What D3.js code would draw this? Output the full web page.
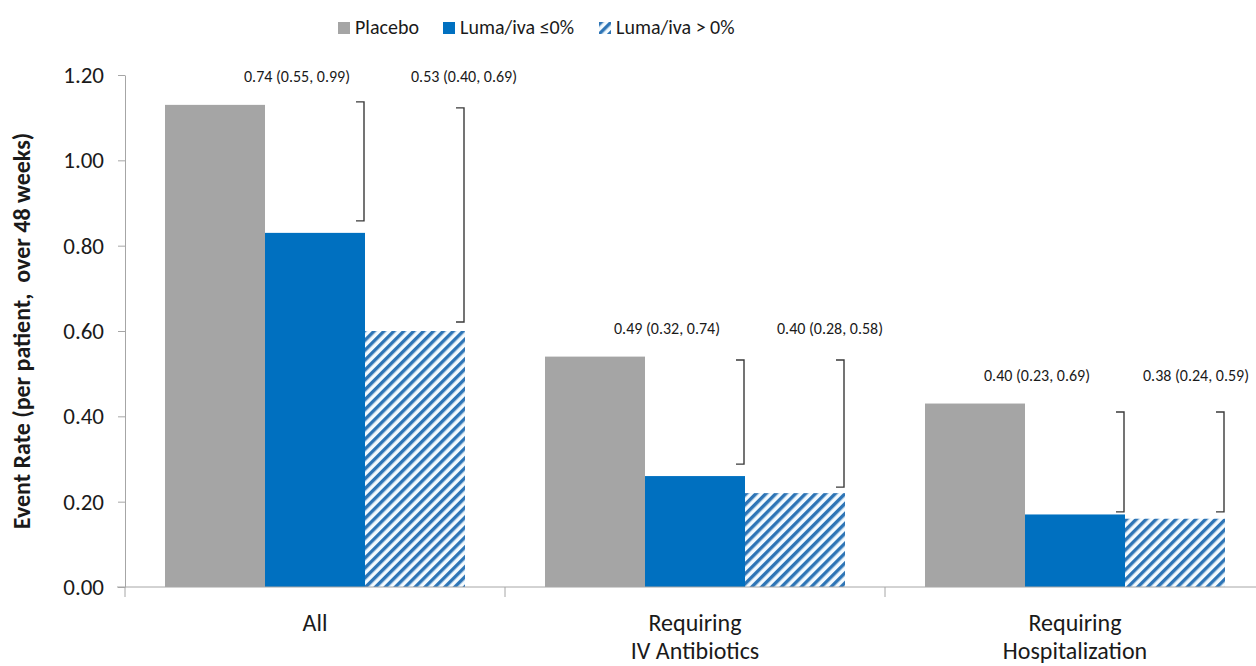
<!DOCTYPE html>
<html>
<head>
<meta charset="utf-8">
<script src="https://cdn.jsdelivr.net/npm/d3@7"></script>
<style>
  body { margin: 0; background: #fff; }
  text { font-family: Calibri, Carlito, Lato, sans-serif; fill: #1a1a1a; }
</style>
</head>
<body>
<script>
const categories = ["All", "Requiring\nIV Antibiotics", "Requiring\nHospitalization"];
const series = ["Placebo", "Luma/iva ≤0%", "Luma/iva > 0%"];
const placebo = [1.13, 0.54, 0.43];
const lumaLow = [0.83, 0.26, 0.17];
const lumaHigh = [0.60, 0.22, 0.16];
const yTicks = [0, 0.2, 0.4, 0.6, 0.8, 1.0, 1.2];

// rate ratio labels and bracket extents (top, bottom) per comparison
const ratioLow = ["0.74 (0.55, 0.99)", "0.49 (0.32, 0.74)", "0.40 (0.23, 0.69)"];
const ratioHigh = ["0.53 (0.40, 0.69)", "0.40 (0.28, 0.58)", "0.38 (0.24, 0.59)"];
const bracketLow = [[1.137, 0.858], [0.532, 0.288], [0.41, 0.176]];
const bracketHigh = [[1.123, 0.621], [0.532, 0.234], [0.41, 0.176]];

const width = 1256, height = 666;
const colors = ["#a5a5a5", "#0070c0", "url(#hatch)"];

const svg = d3.select("body").append("svg")
    .attr("width", width)
    .attr("height", height);

const pat = svg.append("defs").append("pattern")
    .attr("id", "hatch")
    .attr("patternUnits", "userSpaceOnUse")
    .attr("width", 7)
    .attr("height", 7)
    .attr("patternTransform", "rotate(45)");
pat.append("rect").attr("width", 7).attr("height", 7).attr("fill", "#f4fbff");
pat.append("rect").attr("width", 3.4).attr("height", 7).attr("fill", "#2e75b6");

const x0 = d3.scaleBand()
    .domain(categories)
    .range([125, 1265]);

const x1 = d3.scaleBand()
    .domain(series)
    .range([40, 340]);

const y = d3.scaleLinear()
    .domain([0, 1.2])
    .range([587, 75]);

const rows = categories.map((c, i) => ({
    cat: c,
    vals: [placebo[i], lumaLow[i], lumaHigh[i]]
}));

// bars
const g = svg.append("g");
rows.forEach(r => {
    r.vals.forEach((v, j) => {
        g.append("rect")
            .attr("x", x0(r.cat) + x1(series[j]))
            .attr("y", y(v))
            .attr("width", x1.bandwidth())
            .attr("height", y(0) - y(v))
            .attr("fill", colors[j]);
    });
});

// y axis
const yAxis = svg.append("g")
    .attr("transform", "translate(125,0)")
    .call(d3.axisLeft(y).tickValues(yTicks).tickFormat(d3.format(".2f")).tickSize(7).tickSizeOuter(0));
yAxis.select(".domain").attr("stroke", "#a6a6a6");
yAxis.selectAll(".tick line").attr("stroke", "#a6a6a6");
yAxis.selectAll(".tick text")
    .attr("x", -21)
    .style("font-size", "23px")
    .style("font-family", "Calibri, Carlito, Lato, sans-serif")
    .attr("fill", "#1a1a1a");

// x axis
svg.append("line")
    .attr("x1", 117).attr("x2", width)
    .attr("y1", y(0)).attr("y2", y(0))
    .attr("stroke", "#a6a6a6");
categories.forEach(c => {
    svg.append("line")
        .attr("x1", x0(c)).attr("x2", x0(c))
        .attr("y1", y(0)).attr("y2", y(0) + 10)
        .attr("stroke", "#a6a6a6");
});

categories.forEach(c => {
    const t = svg.append("text")
        .attr("x", x0(c) + x0.bandwidth() / 2)
        .attr("y", 631)
        .attr("text-anchor", "middle")
        .style("font-size", "24px");
    c.split("\n").forEach((line, k) => {
        t.append("tspan")
            .attr("x", x0(c) + x0.bandwidth() / 2)
            .attr("dy", k === 0 ? 0 : 28)
            .text(line);
    });
});

// y axis title
svg.append("text")
    .attr("transform", `translate(30,${(y(0) + y(1.2)) / 2}) rotate(-90)`)
    .attr("text-anchor", "middle")
    .style("font-size", "24px")
    .style("font-weight", "bold")
    .style("white-space", "pre")
    .text("Event Rate (per patient,  over 48 weeks)");

// brackets and ratio labels
function bracket(xPos, top, bottom) {
    const path = d3.path();
    path.moveTo(xPos - 8, y(top));
    path.lineTo(xPos, y(top));
    path.lineTo(xPos, y(bottom));
    path.lineTo(xPos - 8, y(bottom));
    svg.append("path")
        .attr("d", path.toString())
        .attr("fill", "none")
        .attr("stroke", "#3a3a3a")
        .attr("stroke-width", 1.4);
}

categories.forEach((c, i) => {
    bracket(x0(c) + x1(series[1]) + x1.bandwidth() - 1, bracketLow[i][0], bracketLow[i][1]);
    bracket(x0(c) + x1(series[2]) + x1.bandwidth() - 1, bracketHigh[i][0], bracketHigh[i][1]);

    svg.append("text")
        .attr("x", x0(c) + 172 - i * 10)
        .attr("y", y(placebo[i]) - 23)
        .attr("text-anchor", "middle")
        .style("font-size", "16px")
        .attr("fill", "#333")
        .text(ratioLow[i]);
    svg.append("text")
        .attr("x", x0(c) + 339 - i * 14)
        .attr("y", y(placebo[i]) - 23)
        .attr("text-anchor", "middle")
        .style("font-size", "16px")
        .attr("fill", "#333")
        .text(ratioHigh[i]);
});

// legend
const legendX = [338, 443, 599];
series.forEach((s, j) => {
    const lg = svg.append("g").attr("transform", `translate(${legendX[j]},22)`);
    lg.append("rect")
        .attr("width", 12)
        .attr("height", 12)
        .attr("fill", colors[j]);
    lg.append("text")
        .attr("x", 17)
        .attr("y", 12)
        .style("font-size", "20px")
        .text(s);
});
</script>
</body>
</html>
